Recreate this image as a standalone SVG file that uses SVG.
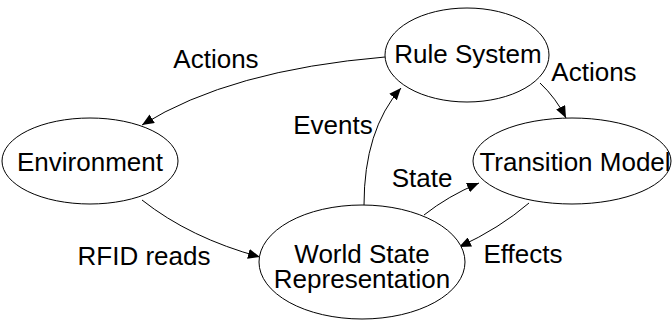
<svg xmlns="http://www.w3.org/2000/svg" width="672" height="331" viewBox="0 0 672 331">
<style>
.n{fill:#fff;stroke:#000;stroke-width:1}
.t{font-family:"Liberation Sans",Arial,sans-serif;font-size:26px;fill:#000;text-anchor:middle}
.e{fill:none;stroke:#000;stroke-width:1;marker-end:url(#ah)}
</style>
<defs>
<marker id="ah" viewBox="0 0 12 10" refX="12" refY="5" markerWidth="12" markerHeight="10" markerUnits="userSpaceOnUse" orient="auto">
<path d="M0,0 L12,5 L0,10 z" fill="#000"/>
</marker>
</defs>
<rect width="672" height="331" fill="#fff"/>
<g id="connectors">
<path class="e" d="M385,57 Q230,70 142,125"/>
<path class="e" d="M540,83 Q556,98 566,118"/>
<path class="e" d="M364,205 Q364,130 401,88"/>
<path class="e" d="M424,215 Q448,196 479,183"/>
<path class="e" d="M529,203 Q500,228 459,247"/>
<path class="e" d="M142,200 Q190,238 260,257"/>
<text class="t" x="216" y="68">Actions</text>
<text class="t" x="594" y="81">Actions</text>
<text class="t" x="333" y="134">Events</text>
<text class="t" x="422" y="187">State</text>
<text class="t" x="523" y="263">Effects</text>
<text class="t" x="144" y="265">RFID reads</text>
</g>
<g id="rule-system">
<ellipse class="n" cx="467" cy="55" rx="82" ry="47"/>
<text class="t" x="468" y="63">Rule System</text>
</g>
<g id="environment">
<ellipse class="n" cx="90" cy="161" rx="88" ry="43"/>
<text class="t" x="90" y="171">Environment</text>
</g>
<g id="transition-model">
<ellipse class="n" cx="572" cy="161" rx="99" ry="43"/>
<text class="t" x="575" y="171">Transition Model</text>
</g>
<g id="world-state">
<ellipse class="n" cx="362" cy="262" rx="103" ry="57"/>
<text class="t" x="362" y="263">World State</text>
<text class="t" x="362" y="288">Representation</text>
</g>
</svg>
